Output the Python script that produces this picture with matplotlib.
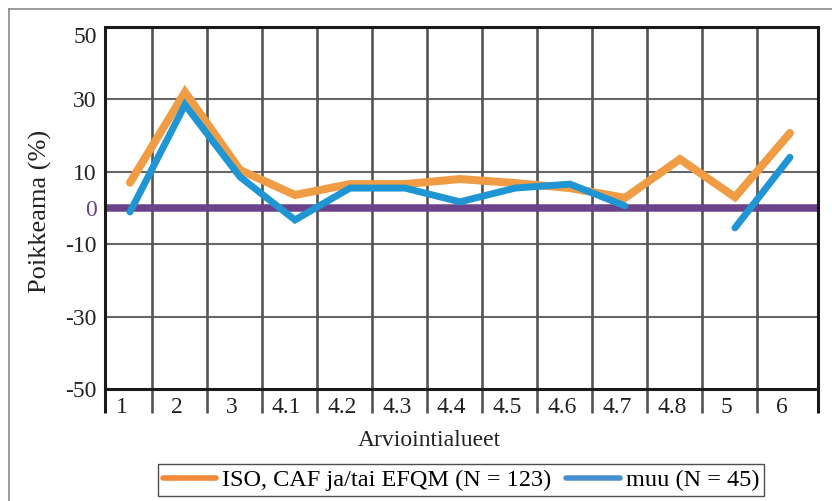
import numpy as np
import matplotlib
matplotlib.use("Agg")
import matplotlib.pyplot as plt
from matplotlib.lines import Line2D

categories = ["1", "2", "3", "4.1", "4.2", "4.3", "4.4", "4.5", "4.6", "4.7", "4.8", "5", "6"]
iso_caf_efqm = [7, 32, 10.5, 3.6, 6.6, 6.6, 8, 6.9, 5.5, 2.8, 13.5, 3, 20.7]
muu = [-1.1, 28.5, 8.6, -3.3, 5.5, 5.5, 1.7, 5.5, 6.6, 0.6, np.nan, -5.5, 14]
yticks = [50, 30, 10, 0, -10, -30, -50]
labels = ["ISO, CAF ja/tai EFQM (N = 123)", "muu (N = 45)"]

ORANGE = "#F09C45"
BLUE = "#1F96D3"
PURPLE = "#6A428A"

plt.rcParams["font.family"] = ["Liberation Serif", "DejaVu Serif"]

fig = plt.figure(figsize=(8.32, 5.01), dpi=100)
ax = fig.add_axes([105 / 832, 1 - 389 / 501, (818 - 105) / 832, (389 - 27) / 501])

x = np.arange(len(categories))
xmin, xmax = -0.4545, 12.51
ybot = -56.6  # vertical lines run a little below the plot

# grid
for y in [30, 10, -10, -30]:
    ax.axhline(y, color="#666666", lw=1.5, zorder=1)
ax.vlines(x[:-1] + 0.4, ybot, 50, color="#555555", lw=1.9, zorder=1, clip_on=False)
ax.vlines([xmin, xmax], ybot, 50, color="#1a1a1a", lw=2.2, zorder=4, clip_on=False)
ax.axhline(0, color=PURPLE, lw=5.4, zorder=2)

ax.plot(x, iso_caf_efqm, color=ORANGE, lw=5.8, solid_capstyle="round",
        solid_joinstyle="miter", zorder=3)
ax.plot(x, muu, color=BLUE, lw=5.0, solid_capstyle="round",
        solid_joinstyle="miter", zorder=3)

ax.set_xlim(xmin, xmax)
ax.set_ylim(-50, 50)
for s in ["top", "bottom"]:
    ax.spines[s].set_linewidth(2.2)
    ax.spines[s].set_color("#1a1a1a")
for s in ["left", "right"]:
    ax.spines[s].set_visible(False)

ax.set_xticks(x - 0.15, labels=categories, fontsize=17)
ax.tick_params(axis="x", length=0, pad=6, colors="#222222")
ax.set_yticks(yticks, labels=[str(v) for v in yticks], fontsize=17)
ax.tick_params(axis="y", length=0, pad=6, colors="#222222")
for t in ax.get_yticklabels():
    if t.get_text() == "0":
        t.set_color(PURPLE)
    if t.get_text() == "50":
        t.set_va("top")

fig.text(40 / 832, 1 - 211 / 501, "Poikkeama (%)", rotation=90, ha="center",
         va="center", fontsize=19, color="#222222")
fig.text(429 / 832, 1 - 440 / 501, "Arviointialueet", ha="center", va="center",
         fontsize=17, color="#222222")

handles = [Line2D([], [], color="#F28A38", lw=4, solid_capstyle="round"),
           Line2D([], [], color="#4A90D0", lw=4, solid_capstyle="round")]
leg = fig.legend(handles, labels, loc="center", bbox_to_anchor=(461 / 832, 1 - 480 / 501),
                 ncol=2, fontsize=17.5, frameon=True, fancybox=False, edgecolor="#222222",
                 handlelength=2.2, handletextpad=0.25, columnspacing=0.6,
                 borderpad=0.2, borderaxespad=0)
leg.get_frame().set_linewidth(1.0)

# outer frame
fig.add_artist(Line2D([8.5 / 832, 8.5 / 832], [0, 1 - 9 / 501], color="#8a8a8a", lw=1.2))
fig.add_artist(Line2D([8.5 / 832, 1], [1 - 9 / 501, 1 - 9 / 501], color="#8a8a8a", lw=1.2))

fig.savefig("out.png", dpi=100, facecolor="white")
